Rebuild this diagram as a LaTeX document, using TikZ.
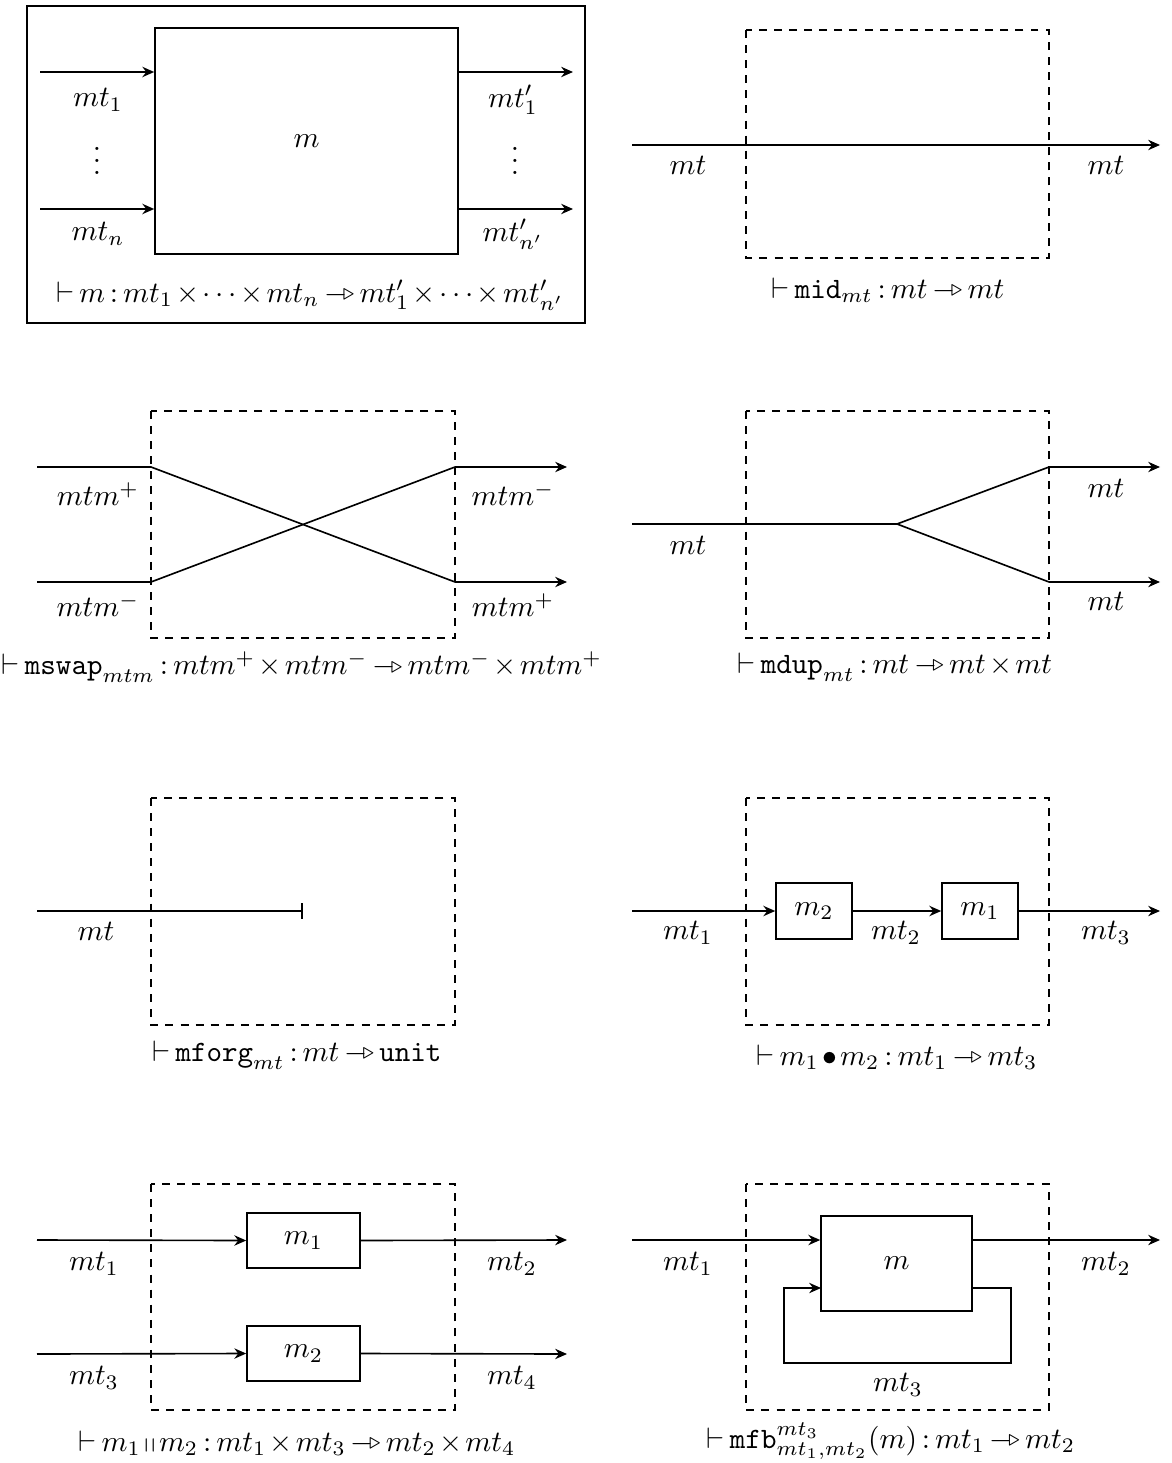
\documentclass[tikz,border=0pt]{standalone}
\usepackage{amsmath,amssymb}
\usetikzlibrary{arrows.meta}
\newcommand{\mto}{\mathrel{\relbar\mkern-6mu\vcenter{\hbox{$\scriptstyle\triangleright$}}}}
\medmuskip=2mu\relax
\thickmuskip=3mu\relax
\tikzset{
  x=0.338pt, y=-0.338pt,
  arr/.style={-{Stealth[length=4pt,width=3.5pt]}},
  dbox/.style={dash pattern=on 2.7pt off 2.4pt},
  sbox/.style={draw, inner sep=0pt},
  lbl/.style={inner sep=0pt},
  barend/.style={-{Bar[width=5.4pt]}}
}
\begin{document}
\begin{tikzpicture}[line width=0.55pt]
\useasboundingbox (0,0) rectangle (1172,1463);
% ---------- Panel 1 ----------
\draw (27,6) rectangle (585,323);
\node[sbox, minimum width=102.41pt, minimum height=76.39pt] (M) at (306.5,141) {$m$};
\coordinate (a1) at (40,72); \coordinate (a2) at (40,209);
\coordinate (b1) at (573,72); \coordinate (b2) at (573,209);
\draw[arr] (a1) -- (a1 -| M.west);
\draw[arr] (a2) -- (a2 -| M.west);
\draw[arr] (b1 -| M.east) -- (b1);
\draw[arr] (b2 -| M.east) -- (b2);
\node[lbl] (l1) at (98,100) {$mt_1$};
\node[lbl] (l2) at (97,152) {$\vdots$};
\node[lbl] (l3) at (98,234) {$mt_n$};
\node[lbl] (r1) at (513,100) {$mt'_1$};
\node[lbl] (r2) at (515,152) {$\vdots$};
\node[lbl] (r3) at (513,234) {$mt'_{n'}$};
\node[lbl] (f1) at (310,295) {$\vdash m : mt_1\times\cdots\times mt_n \mto mt'_1\times\cdots\times mt'_{n'}$};
% ---------- Panel 2 ----------
\draw[dbox] (746,30) rectangle (1049,258);
\coordinate (p2a) at (632,145); \coordinate (p2b) at (1160,145);
\draw[arr] (p2a) -- (p2b);
\node[lbl] (p2l) at (688,165) {$mt$};
\node[lbl] (p2r) at (1106,165) {$mt$};
\node[lbl] (f2) at (888,290) {$\vdash \mathtt{mid}_{mt} : mt \mto mt$};
% ---------- Panel 3 ----------
\draw[dbox] (151,411) rectangle (455,638);
\coordinate (s1) at (37,467); \coordinate (s2) at (37,582);
\coordinate (s1b) at (151,467); \coordinate (s2b) at (151,582);
\coordinate (s3b) at (455,467); \coordinate (s4b) at (455,582);
\coordinate (s3) at (567,467); \coordinate (s4) at (567,582);
\draw (s1) -- (s1b) -- (s4b);
\draw[arr] (s4b) -- (s4);
\draw (s2) -- (s2b) -- (s3b);
\draw[arr] (s3b) -- (s3);
\node[lbl] (p3a) at (98,494) {$mtm^{+}$};
\node[lbl] (p3b) at (98,605) {$mtm^{-}$};
\node[lbl] (p3c) at (513,494) {$mtm^{-}$};
\node[lbl] (p3d) at (513,605) {$mtm^{+}$};
\node[lbl] (f3) at (302,667) {$\vdash \mathtt{mswap}_{mtm} : mtm^{+}\times mtm^{-} \mto mtm^{-}\times mtm^{+}$};
% ---------- Panel 4 ----------
\draw[dbox] (746,411) rectangle (1049,638);
\coordinate (d0) at (632,524); \coordinate (dj) at (897,524);
\coordinate (d1) at (1049,467); \coordinate (d2) at (1049,582);
\coordinate (d1e) at (1160,467); \coordinate (d2e) at (1160,582);
\draw (d0) -- (dj);
\draw (dj) -- (d1); \draw (dj) -- (d2);
\draw[arr] (d1) -- (d1e);
\draw[arr] (d2) -- (d2e);
\node[lbl] (p4a) at (688,545) {$mt$};
\node[lbl] (p4b) at (1106,488) {$mt$};
\node[lbl] (p4c) at (1106,601) {$mt$};
\node[lbl] (f4) at (895,667) {$\vdash \mathtt{mdup}_{mt} : mt \mto mt\times mt$};
% ---------- Panel 5 ----------
\draw[dbox] (151,798) rectangle (455,1025);
\coordinate (g0) at (37,911); \coordinate (g1) at (303,911);
\draw[barend] (g0) -- (g1);
\node[lbl] (p5a) at (96,931) {$mt$};
\node[lbl] (f5) at (297,1055) {$\vdash \mathtt{mforg}_{mt} : mt \mto \mathtt{unit}$};
% ---------- Panel 6 ----------
\draw[dbox] (746,798) rectangle (1049,1025);
\node[sbox, minimum width=25.69pt, minimum height=18.93pt] (M2) at (814,911) {$m_2$};
\node[sbox, minimum width=25.69pt, minimum height=18.93pt] (M1) at (980,911) {$m_1$};
\coordinate (c0) at (632,911); \coordinate (c1) at (1160,911);
\draw[arr] (c0) -- (M2.west);
\draw[arr] (M2.east) -- (M1.west);
\draw[arr] (M1.east) -- (c1);
\node[lbl] (p6a) at (688,933) {$mt_1$};
\node[lbl] (p6b) at (896,933) {$mt_2$};
\node[lbl] (p6c) at (1106,933) {$mt_3$};
\node[lbl] (f6) at (897,1057) {$\vdash m_1\bullet m_2 : mt_1 \mto mt_3$};
% ---------- Panel 7 ----------
\draw[dbox] (151,1184) rectangle (455,1410);
\node[sbox, minimum width=38.19pt, minimum height=18.59pt] (P1) at (303.5,1240.5) {$m_1$};
\node[sbox, minimum width=38.19pt, minimum height=18.59pt] (P2) at (303.5,1353.5) {$m_2$};
\coordinate (q1) at (37,1240); \coordinate (q2) at (37,1354);
\coordinate (q3) at (567,1240); \coordinate (q4) at (567,1354);
\draw[arr] (q1) -- (P1.west);
\draw[arr] (q2) -- (P2.west);
\draw[arr] (P1.east) -- (q3);
\draw[arr] (P2.east) -- (q4);
\node[lbl] (p7a) at (94,1264) {$mt_1$};
\node[lbl] (p7b) at (512,1264) {$mt_2$};
\node[lbl] (p7c) at (94,1378) {$mt_3$};
\node[lbl] (p7d) at (512,1378) {$mt_4$};
\node[lbl] (f7) at (297,1443) {$\vdash m_1 \mathbin{\shortparallel} m_2 : mt_1\times mt_3 \mto mt_2\times mt_4$};
% ---------- Panel 8 ----------
\draw[dbox] (746,1184) rectangle (1049,1410);
\node[sbox, minimum width=51.04pt, minimum height=32.11pt] (FM) at (896.5,1263.5) {$m$};
\coordinate (h0) at (632,1240); \coordinate (h1) at (1160,1240);
\coordinate (k0) at (972,1288); \coordinate (k1) at (1011,1363); \coordinate (k2) at (784,1363);
\coordinate (k3) at (821,1288);
\draw[arr] (h0) -- (h0 -| FM.west);
\draw[arr] (h1 -| FM.east) -- (h1);
\draw[arr] (k0) -| (k1) -| (k2) |- (k3);
\node[lbl] (p8a) at (688,1264) {$mt_1$};
\node[lbl] (p8b) at (1106,1264) {$mt_2$};
\node[lbl] (p8c) at (898,1385) {$mt_3$};
\node[lbl] (f8) at (891,1441) {$\vdash \mathtt{mfb}^{mt_3}_{mt_1,mt_2}(m) : mt_1 \mto mt_2$};
\end{tikzpicture}
\end{document}
